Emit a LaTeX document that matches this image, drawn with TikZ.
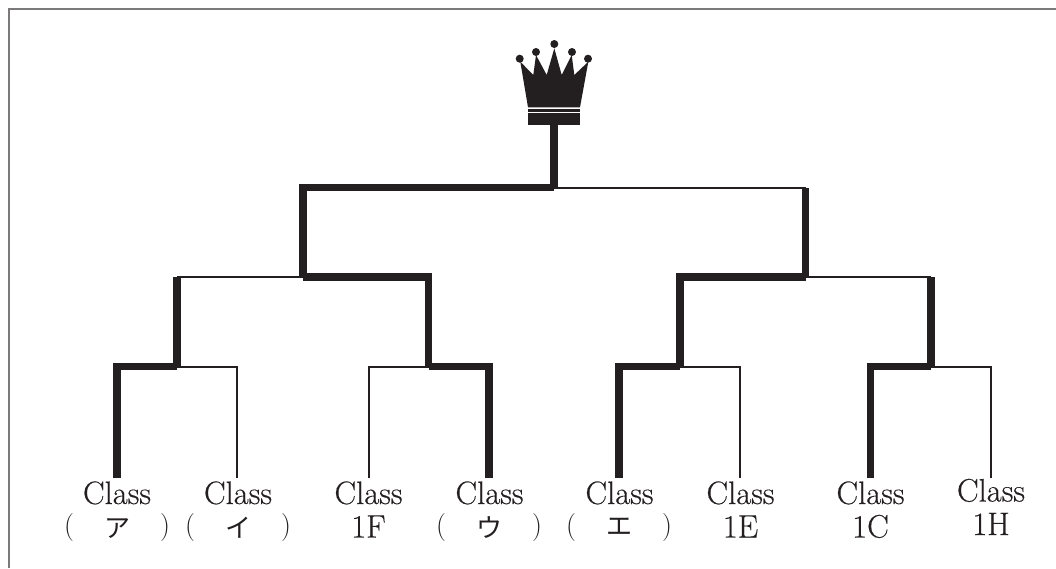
\documentclass[tikz,border=0pt]{standalone}
\usepackage{fontspec}
\setmainfont{Latin Modern Roman}
\newfontfamily\heavy[FakeBold=0.35]{Latin Modern Roman}
\newfontfamily\cjk{Noto Sans CJK JP}
\definecolor{ink}{HTML}{231F20}
\tikzset{
  x=1pt,y=-1pt,
  thickline/.style={draw=ink,line width=7.4pt,line cap=butt,line join=miter},
  thinline/.style={draw=ink,line width=2pt,line cap=butt,line join=miter},
  lbl/.style={font=\fontsize{32.5}{32.5}\selectfont\heavy,text=ink,inner sep=0pt,anchor=base},
  paren/.style={font=\fontsize{28}{28}\selectfont,text=ink,inner sep=0pt,anchor=base},
  kana/.style={font=\fontsize{26}{26}\selectfont\cjk,text=ink,inner sep=0pt,anchor=base},
}
\begin{document}
\begin{tikzpicture}
\useasboundingbox (0,0) rectangle (1056,568);
\fill[white] (0,0) rectangle (1056,568);
\draw[draw=ink!60,line width=2pt] (9,568) -- (9,9) -- (1056,9);
% junctions
\coordinate (root) at (554,125);
\coordinate (top) at (554,187.5);
\coordinate (L) at (303,187.5);
\coordinate (R) at (805.5,187.5);
\coordinate (Lm) at (303,277);
\coordinate (Rm) at (805.5,277);
\coordinate (LL) at (177,277);
\coordinate (LR) at (428.5,277);
\coordinate (RL) at (680,277);
\coordinate (RR) at (931,277);
\coordinate (LLm) at (177,366.5);
\coordinate (LRm) at (428.5,366.5);
\coordinate (RLm) at (680,366.5);
\coordinate (RRm) at (931,366.5);
\coordinate (a1) at (117,366.5);  \coordinate (a2) at (117,478);
\coordinate (b1) at (237,366.5);  \coordinate (b2) at (237,478);
\coordinate (c1) at (368.5,366.5);\coordinate (c2) at (368.5,478);
\coordinate (d1) at (489,366.5);  \coordinate (d2) at (489,478);
\coordinate (e1) at (619,366.5);  \coordinate (e2) at (619,478);
\coordinate (f1) at (740.3,366.5);\coordinate (f2) at (740.3,478);
\coordinate (g1) at (870.3,366.5);\coordinate (g2) at (870.3,478);
\coordinate (h1) at (991.4,366.5);\coordinate (h2) at (991.4,478);
% thin lines
\draw[thinline] (top) -- (R);
\draw[thinline] (Lm) -- (LL);
\draw[thinline] (Rm) -- (RR);
\draw[thinline] (LLm) -- (b1) -- (b2);
\draw[thinline] (LRm) -- (c1) -- (c2);
\draw[thinline] (RLm) -- (f1) -- (f2);
\draw[thinline] (RRm) -- (h1) -- (h2);
% thick lines
\draw[thickline] (root) -- (top);
\draw[thickline] (top) -- (L) -- (Lm);
\draw[thickline] (Lm) -- (LR) -- (LRm);
\draw[thickline] (R) -- (Rm);
\draw[thickline] (Rm) -- (RL) -- (RLm);
\draw[thickline] (LL) -- (LLm);
\draw[thickline] (RR) -- (RRm);
\draw[thickline] (LLm) -- (a1) -- (a2);
\draw[thickline] (LRm) -- (d1) -- (d2);
\draw[thickline] (RLm) -- (e1) -- (e2);
\draw[thickline] (RRm) -- (g1) -- (g2);
% crown
\fill[ink] (528,107.3) -- (520.3,61.7) -- (533.3,75) -- (536,55) -- (546.7,75) -- (554.3,48.3) -- (561.7,75) -- (571.7,55) -- (574.3,75) -- (588.3,61.7) -- (580,107.3) -- cycle;
\fill[ink] (519.7,58.7) circle (4);
\fill[ink] (536,52) circle (4);
\fill[ink] (554.3,44) circle (4);
\fill[ink] (572,52) circle (4);
\fill[ink] (588,58.7) circle (4);
\fill[ink] (528,109) rectangle (580,111.7);
\fill[ink] (528,112.7) rectangle (580,125);
% labels
\node[lbl] (ta) at (117,504) {Class};
\node[lbl] (tb) at (238,504) {Class};
\node[lbl] (tc) at (368.5,504) {Class};
\node[lbl] (td) at (489.5,504) {Class};
\node[lbl] (te) at (619.5,504) {Class};
\node[lbl] (tf) at (740.5,504) {Class};
\node[lbl] (tg) at (870.5,504) {Class};
\node[lbl] (th) at (991,501.5) {Class};
\node[paren] (pa1) at (69,534) {(};
\node[paren] (pa2) at (165,534) {)};
\node[paren] (pb1) at (190,534) {(};
\node[paren] (pb2) at (286,534) {)};
\node[paren] (pd1) at (441,534) {(};
\node[paren] (pd2) at (537,534) {)};
\node[paren] (pe1) at (571,534) {(};
\node[paren] (pe2) at (667,534) {)};
\node[kana] (ka) at (117,537) {ア};
\node[kana] (kb) at (238,537) {イ};
\node[kana] (kd) at (489,537) {ウ};
\node[kana] (ke) at (619,535) {エ};
\node[lbl] (c1F) at (368.5,537.5) {1F};
\node[lbl] (c1E) at (740.5,537.5) {1E};
\node[lbl] (c1C) at (870.5,537.5) {1C};
\node[lbl] (c1H) at (991,535) {1H};
\end{tikzpicture}
\end{document}
